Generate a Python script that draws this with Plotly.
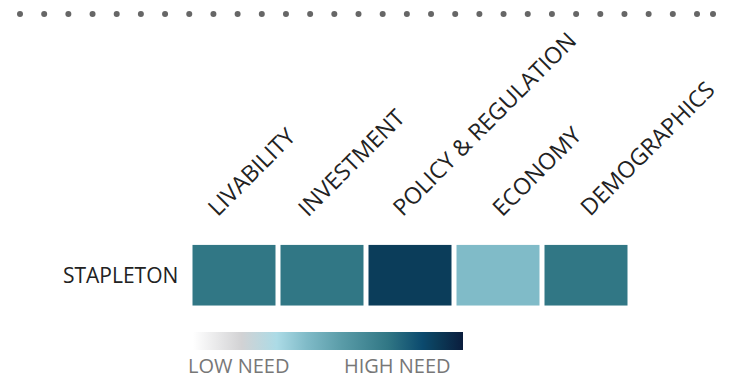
import numpy as np
import plotly.graph_objects as go

# ---- data ----
categories = ["LIVABILITY", "INVESTMENT", "POLICY & REGULATION", "ECONOMY", "DEMOGRAPHICS"]
rows = ["STAPLETON"]
need_values = [[0.72, 0.72, 0.90, 0.42, 0.72]]
legend_labels = ["LOW NEED", "HIGH NEED"]

# ---- style ----
W, H = 732, 377
FONT = "Open Sans"
colorscale = [
    [0.00, "#ffffff"],
    [0.18, "#d2d2d4"],
    [0.31, "#acdbe6"],
    [0.42, "#80bbc8"],
    [0.55, "#5a9ca8"],
    [0.72, "#317785"],
    [0.85, "#0b4a6e"],
    [0.90, "#0b3d5a"],
    [1.00, "#0a1d3d"],
]
label_shift = [-37, -35, -28, -17, -17]

fig = go.Figure()

fig.add_trace(go.Heatmap(
    z=need_values,
    x=categories,
    y=rows,
    zmin=0, zmax=1,
    colorscale=colorscale,
    xgap=5, ygap=0,
    hoverinfo="skip",
    colorbar=dict(
        orientation="h",
        thickness=18,
        thicknessmode="pixels",
        len=270, lenmode="pixels",
        x=193 / W, xanchor="left",
        y=1 - 350 / H, yanchor="bottom",
        outlinewidth=0,
        showticklabels=False,
        ticks="",
        xpad=0, ypad=0,
    ),
))

# decorative dotted rule at the top
dot_x = list(np.linspace(20, 697, 29)) + [713]
fig.add_trace(go.Scatter(
    x=dot_x, y=[0] * len(dot_x),
    mode="markers",
    marker=dict(size=6, color="#666666"),
    xaxis="x2", yaxis="y2",
    hoverinfo="skip", showlegend=False,
))

annotations = []
for i, c in enumerate(categories):
    annotations.append(dict(
        x=c, xref="x", y=1 - 225 / H, yref="paper",
        text=c, textangle=-45, showarrow=False,
        xanchor="left", yanchor="bottom", xshift=label_shift[i],
        font=dict(family=FONT, size=23, color="#222222"),
    ))
annotations.append(dict(
    x=180 / W, xref="paper", y=rows[0], yref="y",
    text=rows[0], showarrow=False, xanchor="right", yanchor="middle",
    font=dict(family=FONT, size=21, color="#222222"),
))
annotations.append(dict(
    x=238.5 / W, xref="paper", y=1 - 365 / H, yref="paper",
    text=legend_labels[0], showarrow=False, xanchor="center", yanchor="middle",
    height=22,
    font=dict(family=FONT, size=20, color="#777777"),
))
annotations.append(dict(
    x=397.5 / W, xref="paper", y=1 - 365 / H, yref="paper",
    text=legend_labels[1], showarrow=False, xanchor="center", yanchor="middle",
    height=22,
    font=dict(family=FONT, size=20, color="#777777"),
))

fig.update_layout(
    width=W, height=H,
    margin=dict(l=0, r=0, t=0, b=0, pad=0, autoexpand=False),
    paper_bgcolor="white", plot_bgcolor="white",
    showlegend=False,
    xaxis=dict(domain=[190.5 / W, 630.5 / W], range=[-0.5, len(categories) - 0.5],
               autorange=False, showticklabels=False, showgrid=False,
               zeroline=False, ticks="", fixedrange=True),
    yaxis=dict(domain=[1 - 305.7 / H, 1 - 244.7 / H], range=[-0.5, 0.5], autorange=False,
               showticklabels=False, showgrid=False,
               zeroline=False, ticks="", fixedrange=True),
    xaxis2=dict(domain=[0, 1], range=[0, W], visible=False, fixedrange=True),
    yaxis2=dict(domain=[1 - 24 / H, 1 - 4 / H], range=[-1, 1], visible=False, fixedrange=True,
                anchor="x2"),
    annotations=annotations,
)

fig.write_html("out.html", config={"displayModeBar": False},
               post_script="document.body.style.margin='0';")
